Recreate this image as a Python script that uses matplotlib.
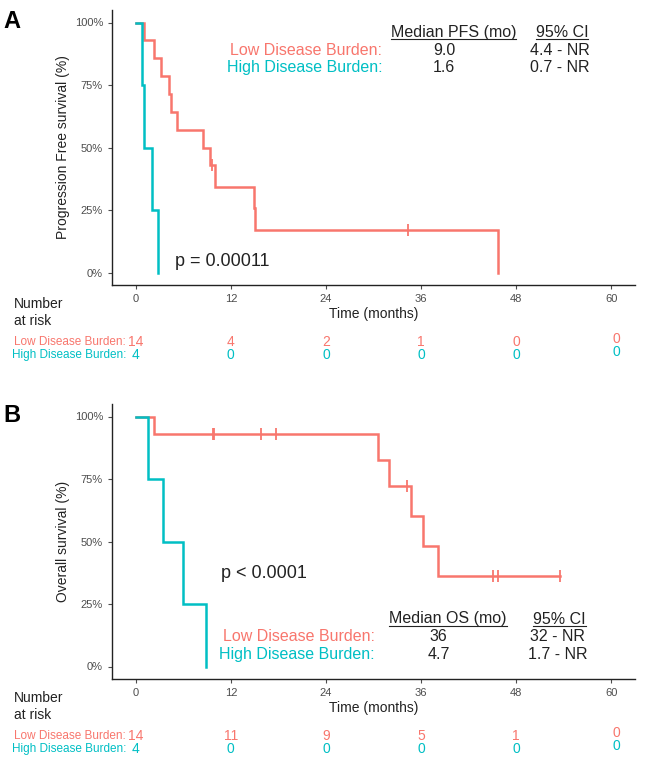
"""
Kaplan-Meier curves: PFS (A) and OS (B) by disease burden, with number-at-risk table
"""
import matplotlib
matplotlib.use('Agg')
import matplotlib.pyplot as plt
import matplotlib.transforms as mtransforms
from matplotlib.lines import Line2D
import numpy as np

plt.rcParams['font.family'] = ['Liberation Sans', 'DejaVu Sans']

# ── data ─────────────────────────────────────────────────────────────── #
groups = ['Low Disease Burden', 'High Disease Burden']
colors = ['#F8766D', '#00BFC4']

# panel A (PFS): event / censor times in months
pfs_low_events = [1.0, 2.3, 3.2, 4.2, 4.4, 5.2, 8.5, 9.4, 10.0, 14.9, 15.1, 45.7]
pfs_low_censor = [9.6, 34.4]
pfs_high_events = [0.8, 1.1, 2.1, 2.8]
pfs_high_censor = []

# panel B (OS)
os_low_events = [2.3, 30.6, 32.0, 34.7, 36.2, 38.1]
os_low_censor = [9.7, 9.9, 15.75, 17.7, 34.25, 45.1, 45.75, 53.5]
os_high_events = [1.5, 3.4, 6.0, 8.8]
os_high_censor = []

risk_times = [0, 12, 24, 36, 48, 60]
pfs_risk_low = [14, 4, 2, 1, 0, 0]
pfs_risk_high = [4, 0, 0, 0, 0, 0]
os_risk_low = [14, 11, 9, 5, 1, 0]
os_risk_high = [4, 0, 0, 0, 0, 0]

pfs_table = [['9.0', '4.4 - NR'], ['1.6', '0.7 - NR']]
os_table = [['36', '32 - NR'], ['4.7', '1.7 - NR']]


def km(events, censor):
    """Kaplan-Meier step points and survival at censor times."""
    times = sorted([(t, 1) for t in events] + [(t, 0) for t in censor])
    n = len(times)
    s = 1.0
    xs, ys = [0.0], [1.0]
    cx, cy = [], []
    for t, e in times:
        if e:
            s *= (n - 1) / n
            xs.append(t)
            ys.append(s)
        else:
            cx.append(t)
            cy.append(s)
        n -= 1
    last = times[-1][0]
    if xs[-1] < last:
        xs.append(last)
        ys.append(ys[-1])
    return xs, ys, cx, cy


W, H = 646, 759
fig = plt.figure(figsize=(W / 100, H / 100), dpi=100)


def fy(py):
    return 1 - py / H


def panel(top_px, letter, ylabel, curves, ptext, pxy, hdr, hdr_y, lab_x, hdr_x, vals,
          risk_low, risk_high):
    ax_left, ax_right = 112, 635
    bottom_px = top_px + 275
    ax = fig.add_axes([ax_left / W, fy(bottom_px), (ax_right - ax_left) / W, 275 / H])
    for (ev, ce), c in zip(curves, colors):
        xs, ys, cx, cy = km(ev, ce)
        ax.step(xs, ys, where='post', color=c, lw=1.8, solid_joinstyle='miter')
        ax.plot(cx, cy, ls='none', marker='|', ms=8, mew=1.3, color=c)
    ax.set_xlim(-3, 63)
    ax.set_ylim(-0.05, 1.05)
    ax.set_xticks(risk_times)
    ax.set_yticks([0, 0.25, 0.5, 0.75, 1.0])
    ax.set_yticklabels(['0%', '25%', '50%', '75%', '100%'])
    ax.tick_params(labelsize=8, colors='#4D4D4D', length=3, width=0.8)
    for sp in ['top', 'right']:
        ax.spines[sp].set_visible(False)
    for sp in ['left', 'bottom']:
        ax.spines[sp].set_color('#222222')
        ax.spines[sp].set_linewidth(1.0)

    fig.text(63 / W, fy(top_px + 137), ylabel, rotation=90, ha='center', va='center',
             fontsize=10, color='#222222')
    fig.text(3 / W, fy(top_px + 12), letter, fontsize=17, fontweight='bold', va='center')

    ax.text(pxy[0], pxy[1], ptext, fontsize=13, va='center', ha='left', color='#222222')

    # median table
    heads = []
    heads.append(ax.text(hdr_x[0], hdr_y[0], hdr[0], ha='center', va='center',
                         fontsize=11.5, color='#222222'))
    heads.append(ax.text(hdr_x[1], hdr_y[0], hdr[1], ha='center', va='center',
                         fontsize=11.5, color='#222222'))
    for i, (g, c) in enumerate(zip(groups, colors)):
        ax.text(lab_x, hdr_y[i + 1], g + ':', ha='right', va='center', fontsize=11.5, color=c)
        ax.text(hdr_x[0] - 1.2, hdr_y[i + 1], vals[i][0], ha='center', va='center',
                fontsize=11.5, color='#222222')
        ax.text(hdr_x[1] - 0.3, hdr_y[i + 1], vals[i][1], ha='center', va='center',
                fontsize=11.5, color='#222222')

    # risk table
    tr = mtransforms.blended_transform_factory(ax.transData, fig.transFigure)
    ax.text(30, fy(bottom_px + 29), 'Time (months)', transform=tr, ha='center',
            va='center', fontsize=10, color='#222222')
    fig.text(14 / W, fy(bottom_px + 19), 'Number', fontsize=10, va='center', color='#222222')
    fig.text(14 / W, fy(bottom_px + 36), 'at risk', fontsize=10, va='center', color='#222222')
    for row, (vals_r, g, c) in enumerate(zip([risk_low, risk_high], groups, colors)):
        y = fy(bottom_px + 57 + 13 * row)
        fig.text(126 / W, y, g + ':', ha='right', va='center', fontsize=8.5, color=c)
        for t, v in zip(risk_times, vals_r):
            dx, dy = (0.6, 0.004) if t == 60 else (0, 0)
            ax.text(t + dx, y + dy, str(v), transform=tr, ha='center', va='center',
                    fontsize=10, color=c)
    return ax, heads


ax_a, heads_a = panel(10, 'A', 'Progression Free survival (%)',
                      [(pfs_low_events, pfs_low_censor), (pfs_high_events, pfs_high_censor)],
                      'p = 0.00011', (4.9, 0.044),
                      ['Median PFS (mo)', '95% CI'], [0.961, 0.888, 0.820], 31.1,
                      [40.1, 53.8], pfs_table, pfs_risk_low, pfs_risk_high)

ax_b, heads_b = panel(404, 'B', 'Overall survival (%)',
                      [(os_low_events, os_low_censor), (os_high_events, os_high_censor)],
                      'p < 0.0001', (10.8, 0.374),
                      ['Median OS (mo)', '95% CI'], [0.190, 0.119, 0.047], 30.2,
                      [39.4, 53.5], os_table, os_risk_low, os_risk_high)

# underline the table headers
fig.canvas.draw()
r = fig.canvas.get_renderer()
for t in heads_a + heads_b:
    bb = t.get_window_extent(r)
    y = (bb.y0 + 1) / H
    fig.add_artist(Line2D([bb.x0 / W, bb.x1 / W], [y, y], color='#222222', lw=0.8))

fig.savefig('out.png', dpi=100)
print('Saved → out.png')
